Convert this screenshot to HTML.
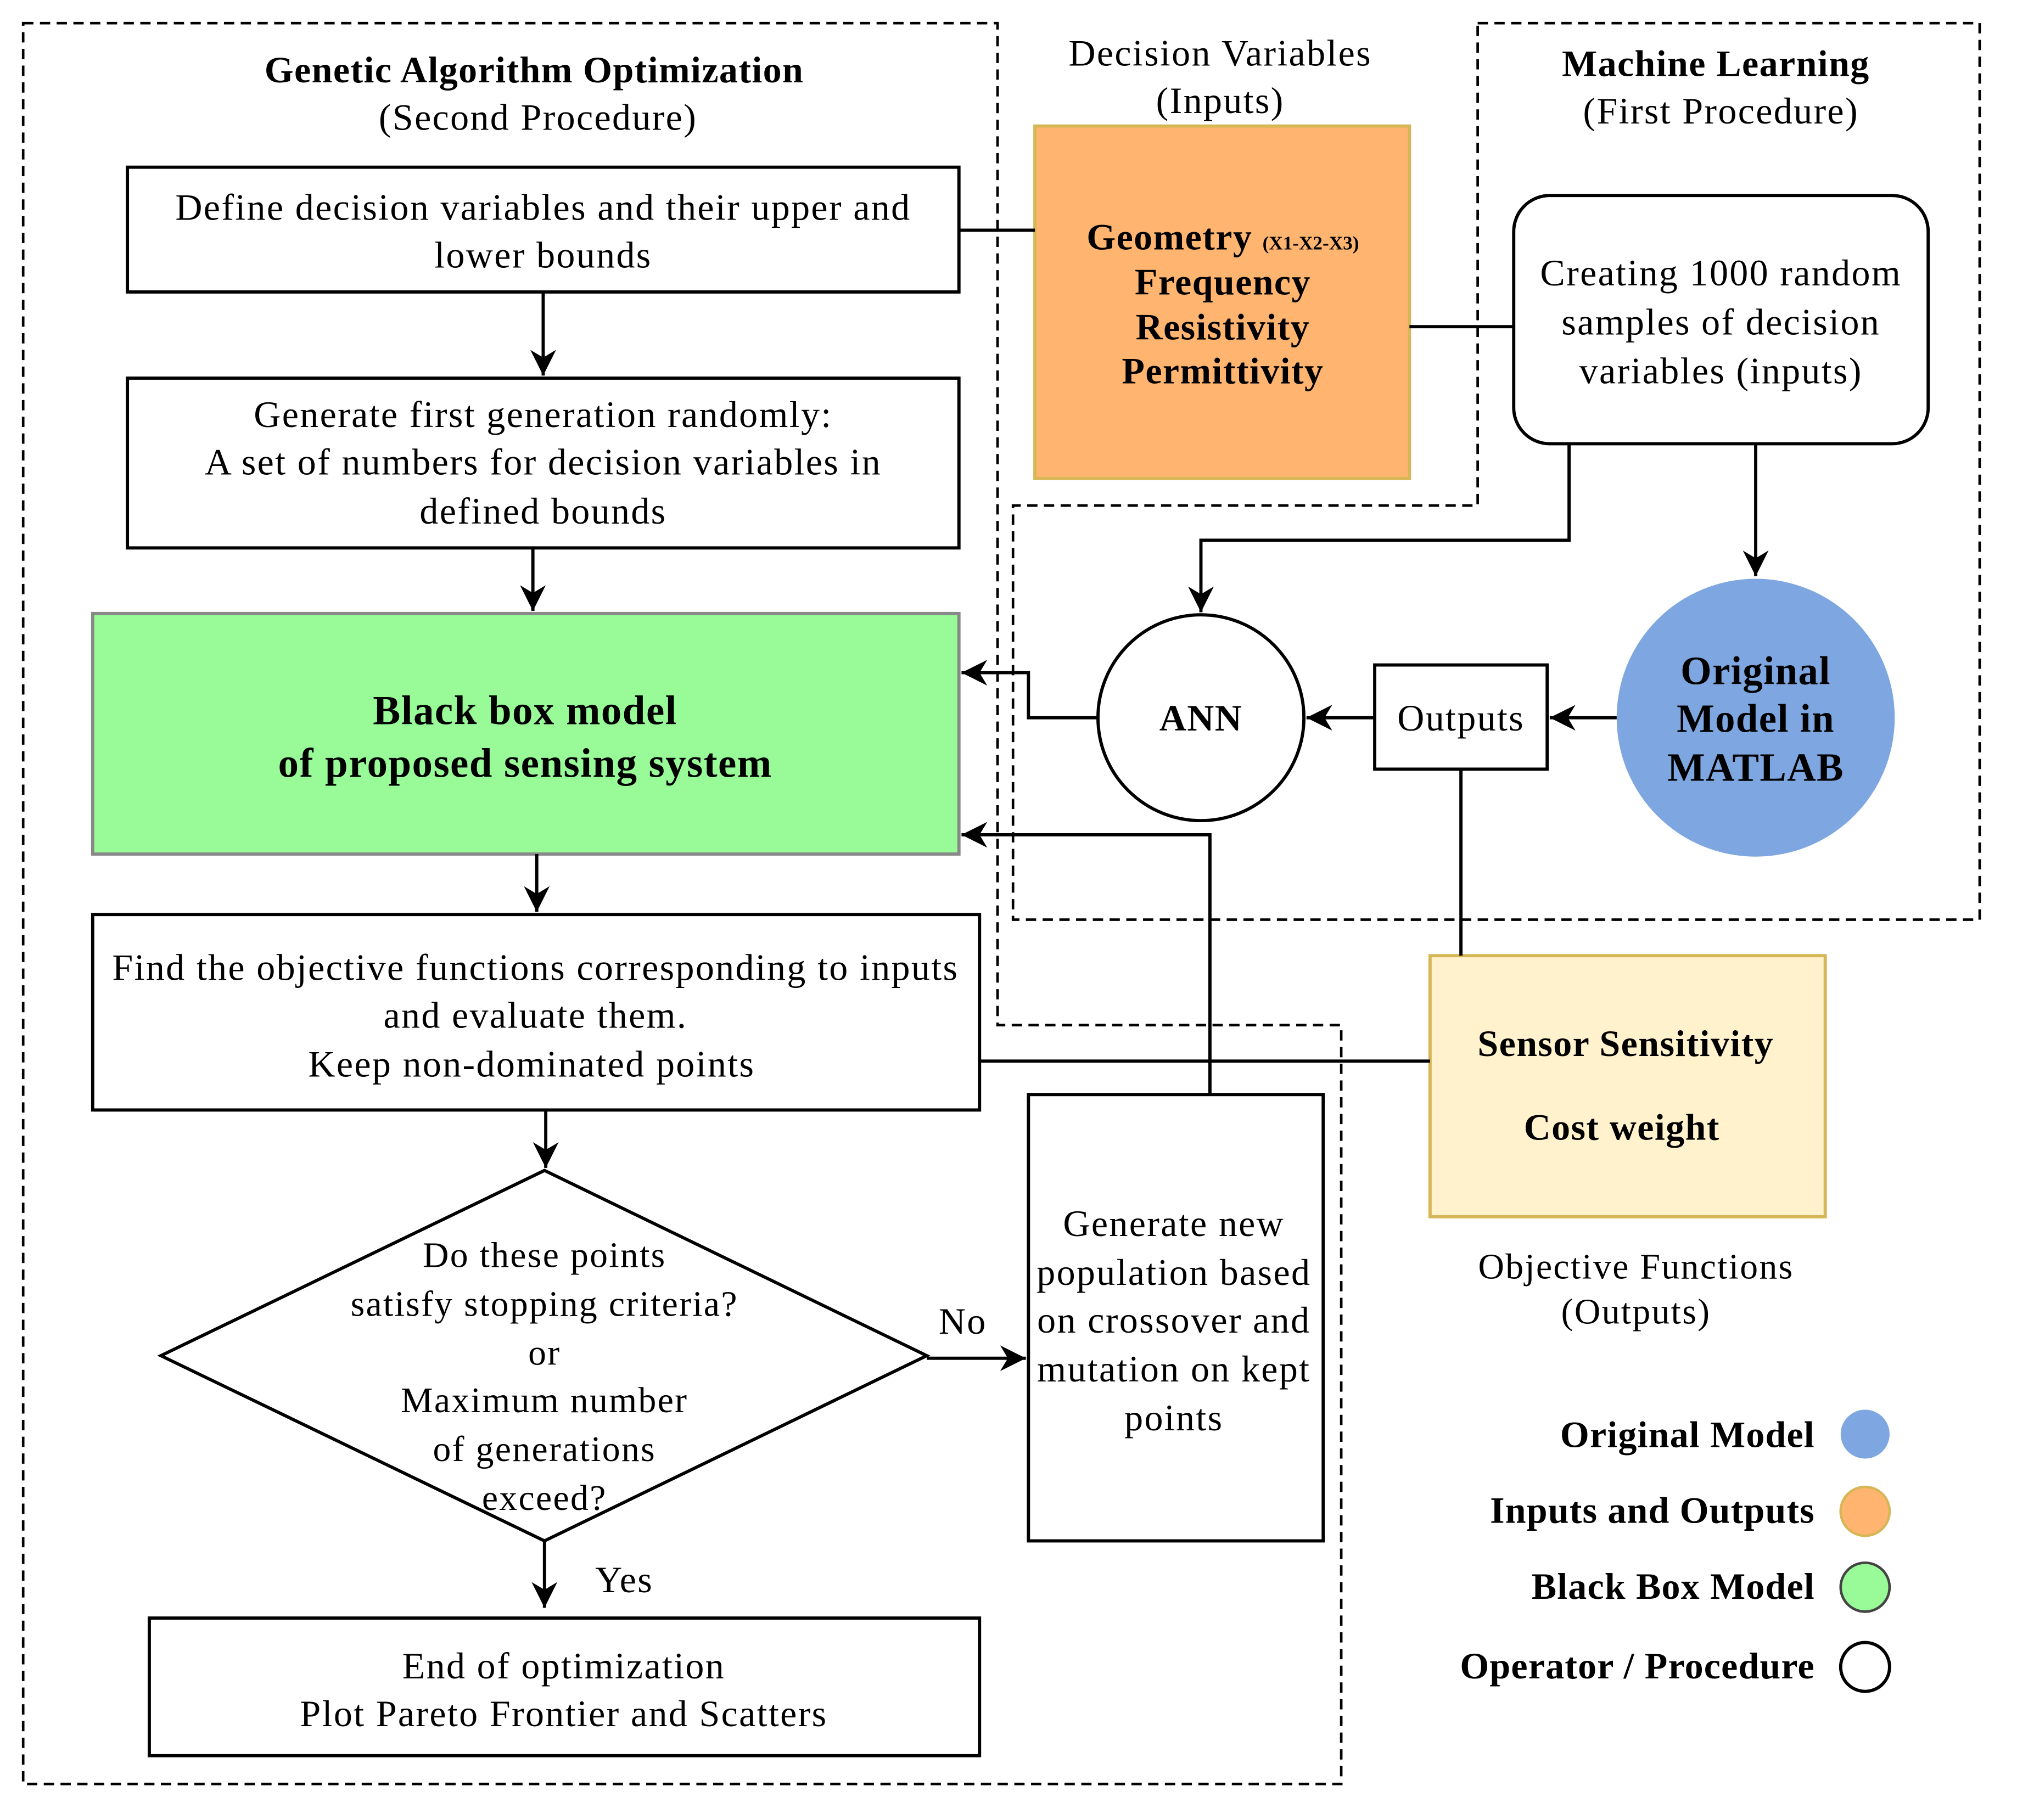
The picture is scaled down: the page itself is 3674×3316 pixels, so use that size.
<!DOCTYPE html>
<html><head><meta charset="utf-8"><style>html,body{margin:0;padding:0;background:#fff}svg{display:block}</style></head>
<body>
<svg xmlns="http://www.w3.org/2000/svg" width="3674" height="3316" viewBox="0 0 1567 1415" preserveAspectRatio="none" font-family="'Liberation Serif', serif" font-size="29" letter-spacing="1">
<defs>
<marker id="b" markerWidth="22" markerHeight="22" refX="20" refY="11" orient="auto" markerUnits="userSpaceOnUse"><path d="M0,1 L20,11 L0,21 L6,11 Z" fill="#000"/></marker></defs>
<rect width="1567" height="1415" fill="#fff"/>
<g fill="none" stroke="#000" stroke-width="2" stroke-dasharray="8,5">
<path d="M18,18 H775 V797 H1042 V1387 H18 Z"/>
<path d="M1148,18 H1538 V715 H787 V393 H1148 Z"/>
</g>
<g text-anchor="middle">
<text x="415" y="64" font-weight="bold" letter-spacing="0.6">Genetic Algorithm Optimization</text>
<text x="418" y="101">(Second Procedure)</text>
<text x="948" y="51">Decision Variables</text>
<text x="948" y="88">(Inputs)</text>
<text x="1333" y="59" font-weight="bold" letter-spacing="0.6">Machine Learning</text>
<text x="1337" y="96">(First Procedure)</text>
</g>
<g fill="#fff" stroke="#000" stroke-width="2.5">
<rect x="99" y="130" width="646" height="97"/>
<rect x="99" y="294" width="646" height="132"/>
<rect x="72" y="711" width="689" height="152"/>
<path d="M125,1054 L423,910 L720,1054 L423,1198 Z"/>
<rect x="116" y="1258" width="645" height="107"/>
<rect x="799" y="851" width="229" height="347"/>
<rect x="1176" y="152" width="322" height="193" rx="28"/>
<circle cx="933" cy="558" r="80"/>
<rect x="1068" y="517" width="134" height="81"/>
</g>
<rect x="72" y="477" width="673" height="187" fill="#98FB98" stroke="#888" stroke-width="2.5"/>
<rect x="804" y="98" width="291" height="274" fill="#FFB570" stroke="#d6b656" stroke-width="2.5"/>
<circle cx="1364" cy="558" r="108" fill="#7EA6E0"/>
<rect x="1111" y="743" width="307" height="203" fill="#FFF2CC" stroke="#d6b656" stroke-width="2.5"/>
<g fill="none" stroke="#000" stroke-width="2.5">
<path d="M422,227 V292" marker-end="url(#b)"/>
<path d="M414,426 V475" marker-end="url(#b)"/>
<path d="M417,664 V709" marker-end="url(#b)"/>
<path d="M424,863 V908" marker-end="url(#b)"/>
<path d="M423,1198 V1250" marker-end="url(#b)"/>
<path d="M720,1056 H797" marker-end="url(#b)"/>
<path d="M940,851 V649 H747" marker-end="url(#b)"/>
<path d="M853,558 H799 V523 H747" marker-end="url(#b)"/>
<path d="M1068,558 H1015" marker-end="url(#b)"/>
<path d="M1256,558 H1204" marker-end="url(#b)"/>
<path d="M1364,345 V448" marker-end="url(#b)"/>
<path d="M1219,345 V420 H933 V476" marker-end="url(#b)"/>
<path d="M745,179 H804"/>
<path d="M1095,254 H1176"/>
<path d="M1135,598 V743"/>
<path d="M761,825 H1111"/>
</g>
<g text-anchor="middle">
<text x="422" y="171">Define decision variables and their upper and</text>
<text x="422" y="208">lower bounds</text>
<text x="422" y="332">Generate first generation randomly:</text>
<text x="422" y="369">A set of numbers for decision variables in</text>
<text x="422" y="407">defined bounds</text>
<text x="408" y="563" font-weight="bold" font-size="32" letter-spacing="0.6">Black box model</text>
<text x="408" y="604" font-weight="bold" font-size="32" letter-spacing="0.6">of proposed sensing system</text>
<text x="416" y="762">Find the objective functions corresponding to inputs</text>
<text x="416" y="799">and evaluate them.</text>
<text x="413" y="837">Keep non-dominated points</text>
<g font-size="28">
<text x="423" y="985">Do these points</text>
<text x="423" y="1023">satisfy stopping criteria?</text>
<text x="423" y="1061">or</text>
<text x="423" y="1098">Maximum number</text>
<text x="423" y="1136">of generations</text>
<text x="423" y="1174">exceed?</text>
</g>
<text x="438" y="1305">End of optimization</text>
<text x="438" y="1342">Plot Pareto Frontier and Scatters</text>
<text x="912" y="961">Generate new</text>
<text x="912" y="999">population based</text>
<text x="912" y="1036">on crossover and</text>
<text x="912" y="1074">mutation on kept</text>
<text x="912" y="1112">points</text>
<g font-weight="bold" letter-spacing="0.6">
<text x="950" y="194">Geometry <tspan font-size="15" letter-spacing="0">(X1-X2-X3)</tspan></text>
<text x="950" y="229">Frequency</text>
<text x="950" y="264">Resistivity</text>
<text x="950" y="298">Permittivity</text>
</g>
<text x="1337" y="222">Creating 1000 random</text>
<text x="1337" y="260">samples of decision</text>
<text x="1337" y="298">variables (inputs)</text>
<text x="933" y="568" font-weight="bold" letter-spacing="0.6">ANN</text>
<text x="1135" y="568">Outputs</text>
<g font-weight="bold" font-size="31" letter-spacing="0.6">
<text x="1364" y="532">Original</text>
<text x="1364" y="569">Model in</text>
<text x="1364" y="607">MATLAB</text>
</g>
<text x="1263" y="821" font-weight="bold" letter-spacing="0.6">Sensor Sensitivity</text>
<text x="1260" y="886" font-weight="bold" letter-spacing="0.6">Cost weight</text>
<text x="1271" y="994" font-size="28">Objective Functions</text>
<text x="1271" y="1029" font-size="28">(Outputs)</text>
<text x="748" y="1037">No</text>
<text x="485" y="1238">Yes</text>
</g>
<g text-anchor="end" font-weight="bold" letter-spacing="0.5">
<text x="1410" y="1125">Original Model</text>
<text x="1410" y="1184">Inputs and Outputs</text>
<text x="1410" y="1243">Black Box Model</text>
<text x="1410" y="1305">Operator / Procedure</text>
</g>
<circle cx="1449" cy="1115" r="19" fill="#7EA6E0"/>
<circle cx="1449" cy="1175" r="19" fill="#FFB570" stroke="#d6b656" stroke-width="2"/>
<circle cx="1449" cy="1234" r="19" fill="#98FB98" stroke="#444" stroke-width="2"/>
<circle cx="1449" cy="1296" r="19" fill="#fff" stroke="#000" stroke-width="2.5"/>
</svg>
</body></html>
